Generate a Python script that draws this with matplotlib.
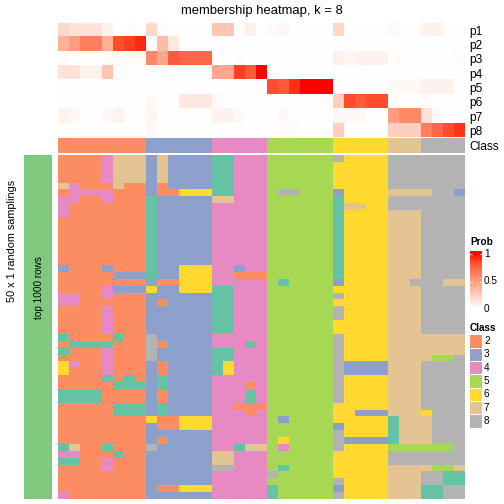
import numpy as np
import matplotlib
matplotlib.use('Agg')
import matplotlib.pyplot as plt
from matplotlib.colors import ListedColormap, BoundaryNorm

plt.rcParams['font.family'] = ['Liberation Sans', 'DejaVu Sans']

# membership probabilities, one list per class (37 samples)
p1 = [0.2, 0.15, 0.15, 0.15, 0.07, 0, 0.02, 0, 0.2, 0.02, 0, 0, 0, 0, 0.3, 0.3, 0, 0.08, 0,
      0.03, 0.05, 0, 0, 0, 0, 0.2, 0, 0, 0, 0, 0.03, 0, 0, 0.07, 0.07, 0, 0]
p2 = [0.4, 0.5, 0.65, 0.65, 0.4, 0.85, 0.9, 0.95, 0, 0.35, 0.12, 0, 0, 0, 0, 0, 0, 0, 0,
      0, 0, 0, 0, 0, 0, 0, 0, 0, 0, 0, 0, 0, 0, 0, 0, 0, 0]
p3 = [0.02, 0, 0, 0, 0.02, 0.02, 0.02, 0.02, 0.6, 0.45, 0.8, 0.75, 0.75, 0.75, 0, 0, 0.02, 0, 0,
      0, 0, 0, 0, 0, 0, 0.08, 0.05, 0.07, 0.07, 0.07, 0.02, 0, 0, 0, 0, 0, 0.02]
p4 = [0.15, 0.15, 0.07, 0.07, 0.3, 0, 0, 0, 0, 0, 0, 0, 0, 0, 0.45, 0.45, 0.9, 0.8, 1.0,
      0, 0, 0, 0, 0, 0, 0, 0, 0, 0, 0, 0, 0, 0, 0, 0, 0, 0]
p5 = [0, 0, 0, 0, 0, 0, 0, 0, 0, 0, 0, 0, 0, 0, 0, 0, 0, 0, 0,
      0.85, 0.8, 0.93, 1, 1, 1, 0, 0, 0, 0, 0, 0.03, 0.03, 0.03, 0.07, 0.07, 0.07, 0]
p6 = [0, 0, 0, 0, 0, 0, 0, 0, 0.03, 0, 0, 0.12, 0.12, 0.12, 0.03, 0, 0, 0, 0,
      0, 0, 0, 0, 0, 0, 0.25, 0.85, 0.8, 0.85, 0.85, 0.02, 0, 0, 0.02, 0, 0, 0]
p7 = [0.07, 0.03, 0, 0, 0.03, 0.07, 0, 0, 0.05, 0, 0, 0, 0, 0, 0.07, 0.07, 0.03, 0, 0,
      0, 0.03, 0, 0, 0, 0, 0.05, 0.03, 0.03, 0, 0, 0.5, 0.6, 0.6, 0.15, 0.03, 0, 0]
p8 = [0, 0, 0, 0, 0, 0, 0, 0, 0.03, 0, 0, 0, 0, 0, 0, 0, 0, 0, 0,
      0, 0.02, 0.02, 0, 0, 0, 0.25, 0, 0, 0, 0, 0.25, 0.25, 0.25, 0.65, 0.75, 0.85, 0.92]
prob_names = ['p1', 'p2', 'p3', 'p4', 'p5', 'p6', 'p7', 'p8']

sample_class = [2] * 8 + [3] * 6 + [4] * 5 + [5] * 6 + [6] * 5 + [7] * 3 + [8] * 4

# class of each sample in each of the 50 random samplings (spaces only for reading)
samplings = [
  "22224777 373333 11444 555555 86666 888 8888",
  "22224777 373333 11444 555555 66666 888 8888",
  "22224777 373333 11444 555555 66666 888 8888",
  "22224777 373333 11444 555555 66666 888 8888",
  "74222722 323333 11444 555555 66666 888 8888",
  "24444222 322666 11444 588555 36666 777 7883",
  "44224222 133333 77444 555555 16666 888 8888",
  "42222222 133333 44444 555555 17766 888 8888",
  "42222222 133333 44444 555555 16666 777 8888",
  "22222222 133333 44444 555555 16666 777 8888",
  "22222222 133333 44444 555555 16666 777 8888",
  "22222222 133333 44444 555555 16666 777 8888",
  "22222222 133333 44444 555555 16666 777 8888",
  "22222222 133333 44444 555555 16666 777 8888",
  "22222222 133333 44444 555555 16666 777 8888",
  "22222222 133333 44444 555555 16666 777 8888",
  "32223222 133666 44344 555555 16666 777 8888",
  "22222333 133666 44222 555555 16666 777 8888",
  "22222222 322666 44444 515555 36666 778 8877",
  "22224333 633666 11444 555555 66666 777 8888",
  "44224222 333333 11444 555555 86666 777 8888",
  "44222222 323333 11444 555555 66666 777 8888",
  "22224222 333333 11444 555555 86666 777 8888",
  "22224222 333333 11444 555555 86666 777 8888",
  "22224222 333333 11444 555555 66666 777 8888",
  "22224222 333333 11444 555555 66666 777 8888",
  "12222122 833333 44444 555555 86666 777 7777",
  "21111222 823333 44414 555555 86666 777 7777",
  "12224222 833333 11444 555555 86666 777 7777",
  "22224222 833333 11444 555555 86666 777 7558",
  "64224222 323333 16444 555555 83333 777 8888",
  "62224222 323333 16444 555555 83333 777 8888",
  "22221212 313333 44444 555555 86666 777 8888",
  "22222111 313333 44424 555555 86666 777 8888",
  "11112222 323333 44414 555555 86666 777 8888",
  "11112222 323333 44414 555555 86666 777 8888",
  "22222111 313333 44222 555555 66666 777 8888",
  "22222111 313333 44424 555555 66333 777 6888",
  "22222222 622666 44444 535555 66666 177 7888",
  "22222222 322666 44444 555555 36666 177 7888",
  "22222222 333333 44444 555555 86666 177 7888",
  "22222222 323333 44444 565555 83333 177 7888",
  "17221222 833333 44177 545555 86666 555 5558",
  "44222122 333333 77444 555555 66666 888 8888",
  "11224222 333333 77444 555555 66666 888 8888",
  "22224222 333333 88444 515555 66666 777 7557",
  "22222222 333333 44444 855555 66666 777 8811",
  "22222222 333333 44444 555555 86666 777 8811",
  "22222222 322666 44444 155555 36666 777 1188",
  "42222222 333333 44444 155555 86666 777 1188",
]

legend_classes = [2, 3, 4, 5, 6, 7, 8]
class_colors = ['#66C2A5', '#FC8D62', '#8DA0CB', '#E78AC3', '#A6D854', '#FFD92F', '#E5C494', '#B3B3B3']


def white_red_cmap(n=256):
  # colorRamp2 style: interpolate white -> red in LAB space
  M = np.array([[0.4124, 0.3576, 0.1805], [0.2126, 0.7152, 0.0722], [0.0193, 0.1192, 0.9505]])
  wp = np.array([0.95047, 1.0, 1.08883])

  def to_lab(rgb):
    c = np.array(rgb, float)
    c = np.where(c > 0.04045, ((c + 0.055) / 1.055) ** 2.4, c / 12.92)
    xyz = M @ c / wp
    f = np.where(xyz > 0.008856, np.cbrt(xyz), 7.787 * xyz + 16 / 116)
    return np.array([116 * f[1] - 16, 500 * (f[0] - f[1]), 200 * (f[1] - f[2])])

  def to_rgb(lab):
    L, a, b = lab
    fy = (L + 16) / 116
    f = np.array([fy + a / 500, fy, fy - b / 200])
    xyz = np.where(f ** 3 > 0.008856, f ** 3, (f - 16 / 116) / 7.787) * wp
    c = np.linalg.inv(M) @ xyz
    c = np.clip(c, 0, 1)
    c = np.where(c > 0.0031308, 1.055 * c ** (1 / 2.4) - 0.055, 12.92 * c)
    return np.clip(c, 0, 1)

  lw = to_lab([1, 1, 1])
  lr = to_lab([1, 0, 0])
  cols = [to_rgb(lw + (lr - lw) * t) for t in np.linspace(0, 1, n)]
  return ListedColormap(cols)


prob_cmap = white_red_cmap()
class_cmap = ListedColormap(class_colors)
class_norm = BoundaryNorm(np.arange(0.5, 9.5, 1), class_cmap.N)

prob = np.array([p1, p2, p3, p4, p5, p6, p7, p8])
samp = np.array([[int(ch) for ch in ''.join(r.split())] for r in samplings])

W = 504
fig = plt.figure(figsize=(5.04, 5.04), dpi=100)


def px_axes(x0, y0, x1, y1):
  ax = fig.add_axes([x0 / W, 1 - y1 / W, (x1 - x0) / W, (y1 - y0) / W])
  return ax


# membership probabilities
ax_p = px_axes(58, 23, 465, 137.5)
ax_p.imshow(prob, cmap=prob_cmap, vmin=0, vmax=1, aspect='auto', interpolation='nearest')
ax_p.set_xticks([])
ax_p.yaxis.tick_right()
ax_p.set_yticks(range(len(prob_names)))
ax_p.set_yticklabels(prob_names, fontsize=8.6)
ax_p.tick_params(axis='y', length=0, pad=3)
for s in ax_p.spines.values():
  s.set_visible(False)

# class annotation row
ax_c = px_axes(58, 138, 465, 152.7)
ax_c.imshow(np.array([sample_class]), cmap=class_cmap, norm=class_norm, aspect='auto', interpolation='nearest')
ax_c.set_xticks([])
ax_c.yaxis.tick_right()
ax_c.set_yticks([0])
ax_c.set_yticklabels(['Class'], fontsize=8.6)
ax_c.tick_params(axis='y', length=0, pad=3)
for s in ax_c.spines.values():
  s.set_visible(False)

# random samplings
ax_s = px_axes(58, 155, 465, 499)
ax_s.imshow(samp, cmap=class_cmap, norm=class_norm, aspect='auto', interpolation='nearest')
ax_s.set_xticks([])
ax_s.set_yticks([])
for s in ax_s.spines.values():
  s.set_visible(False)

# left row annotation
ax_a = px_axes(24, 155, 52, 499)
ax_a.set_facecolor('#7FC97F')
ax_a.set_xticks([])
ax_a.set_yticks([])
for s in ax_a.spines.values():
  s.set_visible(False)

fig.text(38.5 / W, 1 - 288 / W, 'top 1000 rows', rotation=90, ha='center', va='center', fontsize=7.2)
fig.text(12 / W, 1 - 241 / W, '50 x 1 random samplings', rotation=90, ha='center', va='center', fontsize=7.8)
fig.text(261.5 / W, 1 - 11 / W, 'membership heatmap, k = 8', ha='center', va='center', fontsize=9.4)

# Prob legend
fig.text(470 / W, 1 - 242 / W, 'Prob', ha='left', va='center', fontsize=7.2, fontweight='bold')
ax_l = px_axes(470, 251, 482, 312)
grad = np.linspace(1.055, -0.055, 120).reshape(-1, 1)
ax_l.imshow(grad, cmap=prob_cmap, vmin=0, vmax=1, aspect='auto', extent=[0, 1, -0.055, 1.055])
ax_l.hlines([0, 0.5, 1], [0, 0, 0], [0.2, 0.2, 0.2], color='white', lw=0.8)
ax_l.hlines([0, 0.5, 1], [0.8, 0.8, 0.8], [1, 1, 1], color='white', lw=0.8)
ax_l.set_xlim(0, 1)
ax_l.set_ylim(-0.055, 1.055)
ax_l.axis('off')
for v, lab in [(1, '1'), (0.5, '0.5'), (0, '0')]:
  y = 254 + (1 - v) * 55
  fig.text(484 / W, 1 - y / W, lab, ha='left', va='center', fontsize=7.2)

# Class legend
fig.text(470 / W, 1 - 328 / W, 'Class', ha='left', va='center', fontsize=7.2, fontweight='bold')
ax_k = px_axes(470, 334.5, 482, 427.6)
ax_k.imshow(np.array(legend_classes).reshape(-1, 1), cmap=class_cmap, norm=class_norm, aspect='auto',
            extent=[0, 1, len(legend_classes), 0])
ax_k.hlines(range(1, len(legend_classes)), 0, 1, color='white', lw=0.8)
ax_k.axis('off')
for i, c in enumerate(legend_classes):
  y = 334.5 + (i + 0.5) * 13.3
  fig.text(484 / W, 1 - y / W, str(c), ha='left', va='center', fontsize=7.2)

fig.savefig('out.png', dpi=100)
